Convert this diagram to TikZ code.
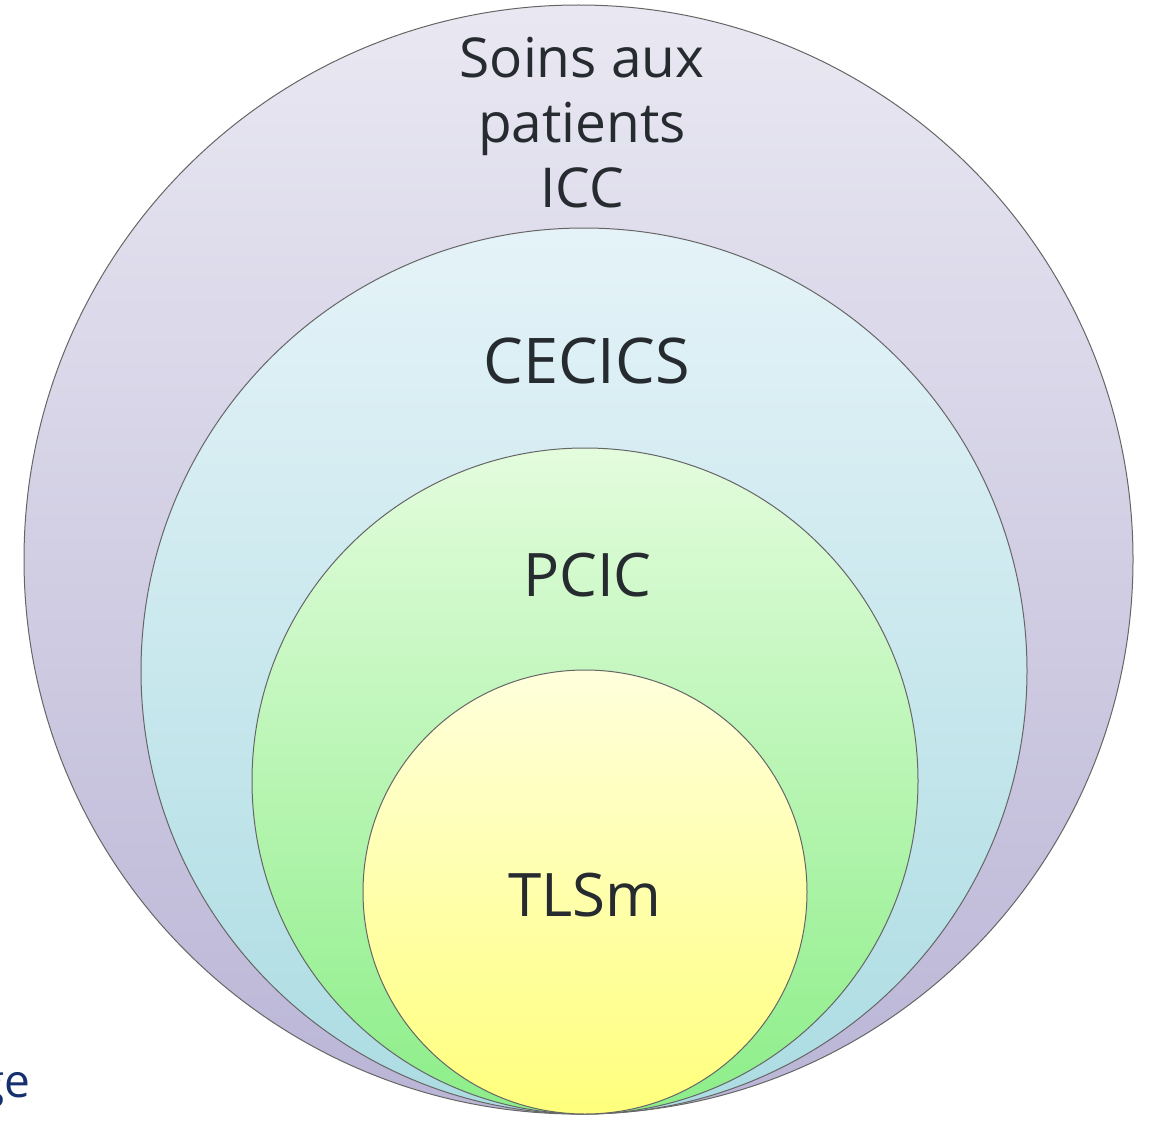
\documentclass[tikz,border=0pt]{standalone}
\usepackage{fontspec}
\setmainfont{Open Sans}
\usetikzlibrary{positioning}

\definecolor{ringtxt}{HTML}{262B30}
\definecolor{gebleu}{HTML}{15306E}
\definecolor{lavtop}{HTML}{E9E8F2}
\definecolor{lavbot}{HTML}{BAB5D6}
\definecolor{cyantop}{HTML}{E5F3F8}
\definecolor{cyanbot}{HTML}{ABDCE2}
\definecolor{greentop}{HTML}{E3FCDD}
\definecolor{greenbot}{HTML}{8CEE88}
\definecolor{yellowtop}{HTML}{FFFFDC}
\definecolor{yellowbot}{HTML}{FFFF7C}

\tikzset{
  ring/.style={draw=black!60, line width=1pt},
  ringlabel/.style={text=ringtxt, anchor=base, inner sep=0pt}
}

\begin{document}
\begin{tikzpicture}[x=1pt, y=-1pt]
		%%%%% START %%%%%
		\useasboundingbox (0, 0) rectangle (1153, 1121);
		
		% rings, all touching at the bottom
		\draw[ring, top color=lavtop, bottom color=lavbot] (578.5, 559.5) circle (554.5);
		\draw[ring, top color=cyantop, bottom color=cyanbot] (584, 671) circle (443);
		\draw[ring, top color=greentop, bottom color=greenbot] (585, 781) circle (333);
		\draw[ring, top color=yellowtop, bottom color=yellowbot] (585, 892) circle (222);
		
		% labels (base of a multi-line node is its last line)
		\node[ringlabel, align=center, font=\fontsize{55}{65}\selectfont] (soins) at (582, 207) {Soins aux\\patients\\ICC};
		\node[ringlabel, font=\fontsize{63}{70}\selectfont] (cecics) at (586.5, 383) {CECICS};
		\node[ringlabel, font=\fontsize{60}{70}\selectfont] (pcic) at (587.5, 596) {PCIC};
		\node[ringlabel, font=\fontsize{60}{70}\selectfont] (tlsm) at (585, 916) {TLSm};
		
		\node[text=gebleu, anchor=base east, inner sep=0pt, font=\fontsize{46}{50}\selectfont] (ge) at (31, 1097) {ge};
		
		%%%%% END %%%%%
	\end{tikzpicture}
\end{document}
